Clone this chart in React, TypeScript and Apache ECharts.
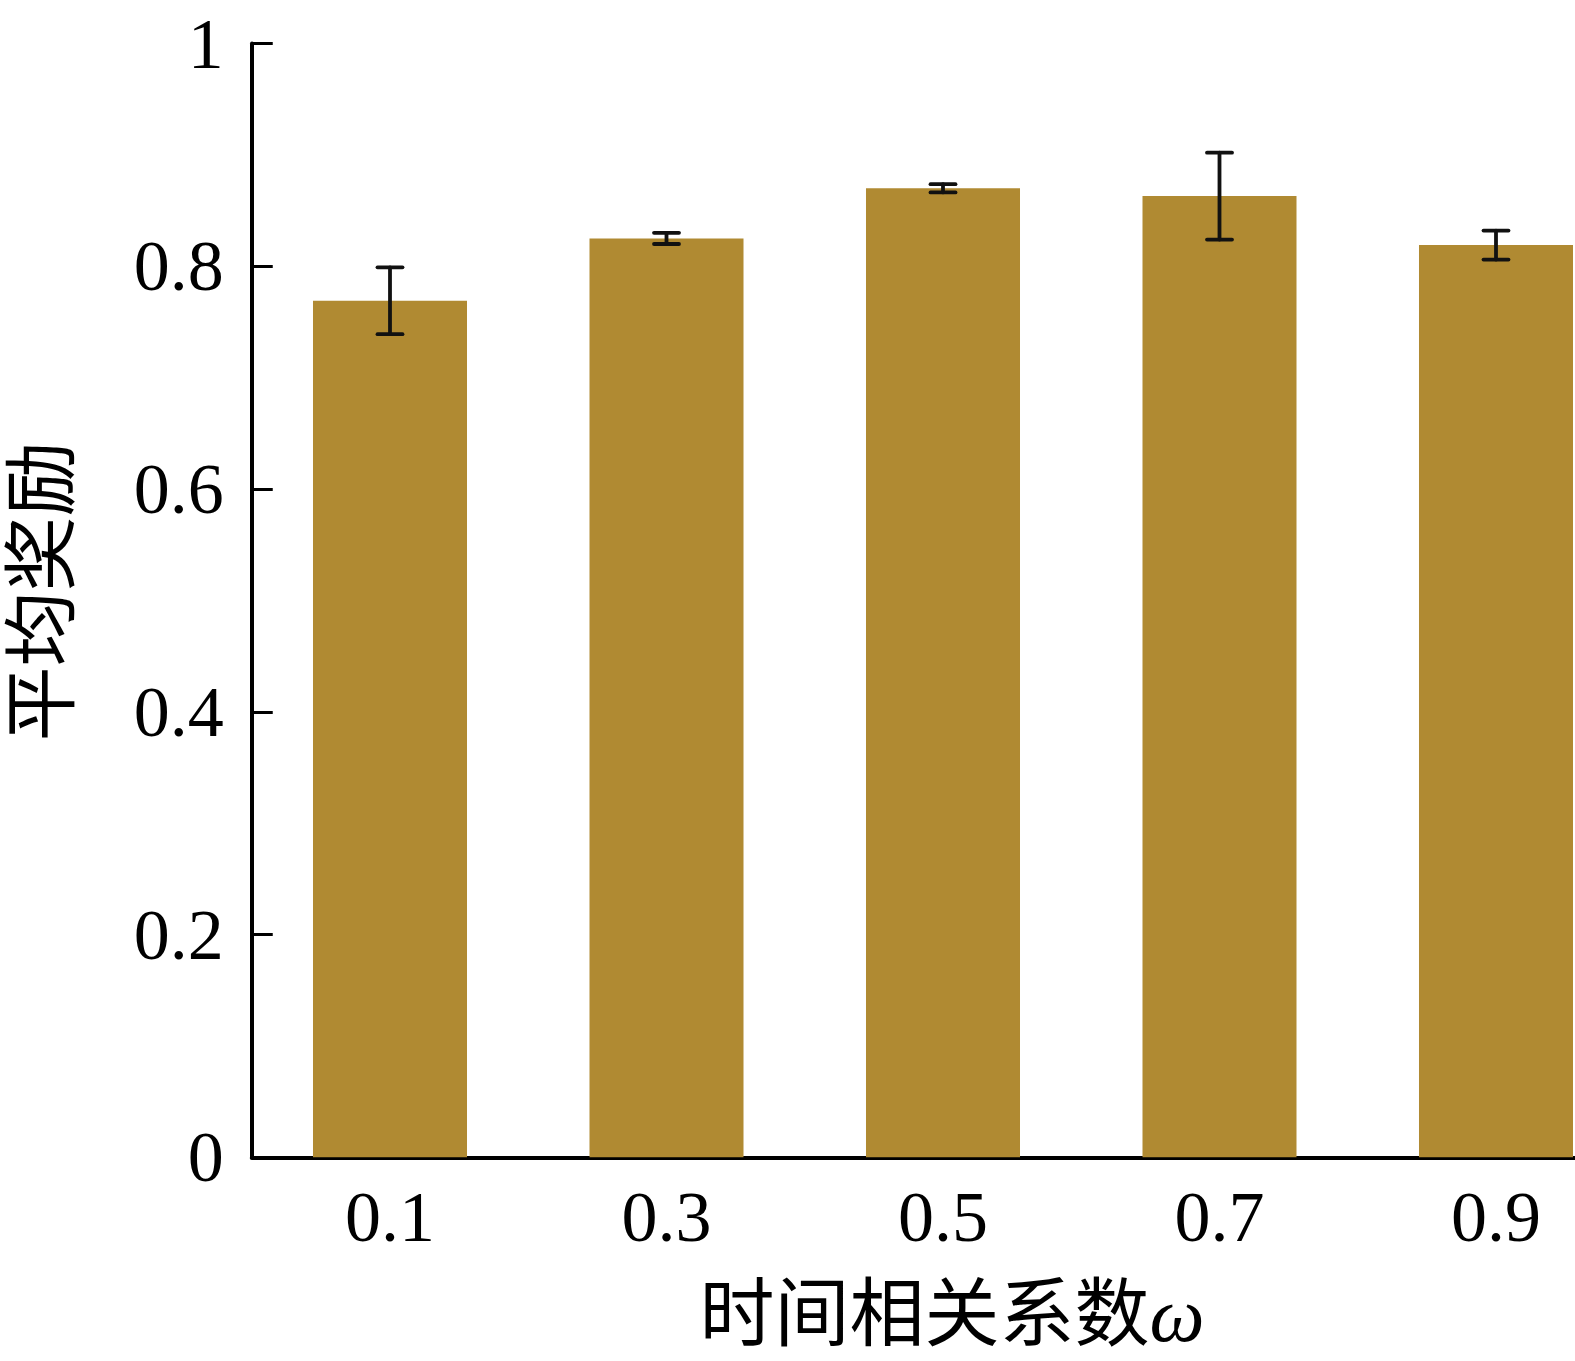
import React, { useEffect, useRef } from "react";
import * as echarts from "echarts";

const categories = ["0.1", "0.3", "0.5", "0.7", "0.9"];
const meanReward = [0.769, 0.825, 0.870, 0.863, 0.819];
const errorSize = [0.030, 0.005, 0.0037, 0.039, 0.013];
const yTicks = { min: 0, max: 1, interval: 0.2 };
const xTitle = "时间相关系数";
const xSymbol = "ω";
const yTitle = "平均奖励";

const SERIF = "'Liberation Serif', 'Times New Roman', 'Noto Sans CJK SC', serif";

export default function App() {
  const ref = useRef<HTMLDivElement>(null);
  useEffect(() => {
    if (!ref.current) return;
    const chart = echarts.init(ref.current, null, { renderer: "svg" });
    const errData = categories.map((_, i) => [i, meanReward[i] - errorSize[i], meanReward[i] + errorSize[i]]);
    chart.setOption({
      animation: false,
      backgroundColor: "#ffffff",
      grid: {
        left: 251.75,
        right: 65.75,
        top: 43.5,
        bottom: 203.7,
        containLabel: false,
        outerBoundsMode: "none",
      },
      xAxis: {
        type: "category",
        data: categories,
        axisLine: { lineStyle: { color: "#000", width: 4 } },
        axisTick: { inside: true, length: 21, alignWithLabel: true, interval: 0, lineStyle: { color: "#000", width: 3 } },
        axisLabel: { fontFamily: SERIF, fontSize: 72, color: "#000", margin: 24, interval: 0 },
        name: `{cn|${xTitle}}{w|${xSymbol}}`,
        nameLocation: "middle",
        nameGap: 120,
        nameTextStyle: {
          padding: [0, 0, 0, 18],
          rich: {
            cn: { fontFamily: SERIF, fontSize: 75, lineHeight: 75, color: "#000" },
            w: { fontFamily: SERIF, fontStyle: "italic", fontSize: 78, lineHeight: 75, color: "#000" },
          },
        },
      },
      yAxis: {
        type: "value",
        min: yTicks.min,
        max: yTicks.max,
        interval: yTicks.interval,
        splitLine: { show: false },
        axisLine: { show: true, lineStyle: { color: "#000", width: 4 } },
        axisTick: { show: true, inside: true, length: 21, lineStyle: { color: "#000", width: 3 } },
        axisLabel: { fontFamily: SERIF, fontSize: 72, color: "#000", margin: 28, padding: [0, 0, 10, 0] },
        name: yTitle,
        nameLocation: "middle",
        nameRotate: 90,
        nameGap: 173,
        nameTextStyle: { fontFamily: SERIF, fontSize: 75, lineHeight: 73, color: "#000", padding: [0, 0, 0, 18] },
      },
      series: [
        {
          type: "bar",
          data: meanReward,
          barWidth: "55.7%",
          itemStyle: { color: "#B08A32" },
          z: 1,
        },
        {
          type: "custom",
          data: errData,
          z: 5,
          renderItem: (params: any, api: any) => {
            const x = api.value(0);
            const lo = api.coord([x, api.value(1)]);
            const hi = api.coord([x, api.value(2)]);
            const hw = 12.5;
            const style = { stroke: "#111", lineWidth: 3.8, lineCap: "round" };
            return {
              type: "group",
              children: [
                { type: "line", shape: { x1: lo[0], y1: lo[1], x2: hi[0], y2: hi[1] }, style },
                { type: "line", shape: { x1: lo[0] - hw, y1: lo[1], x2: lo[0] + hw, y2: lo[1] }, style },
                { type: "line", shape: { x1: hi[0] - hw, y1: hi[1], x2: hi[0] + hw, y2: hi[1] }, style },
              ],
            };
          },
        },
      ],
    });
    return () => chart.dispose();
  }, []);
  return (
    <div style={{ position: "fixed", left: 0, top: 0, width: 1575, height: 1361, overflow: "hidden", background: "#fff" }}>
      <div ref={ref} style={{ width: 1700, height: 1361 }} />
    </div>
  );
}
